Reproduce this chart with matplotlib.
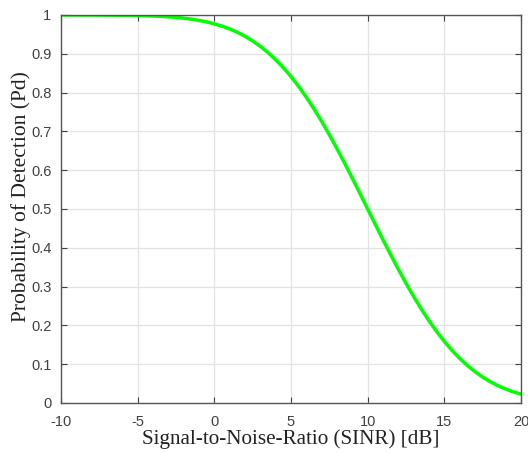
import numpy as np
import matplotlib
matplotlib.use("Agg")
import matplotlib.pyplot as plt

plt.rcParams["axes.unicode_minus"] = False

# SINR axis in dB, sampled every 0.5 dB
sinr_db = np.arange(-10, 20.01, 0.5)
pd_values = [
    1.0000, 1.0000, 0.9999, 0.9999, 0.9998, 0.9998, 0.9997, 0.9995, 0.9993, 0.9990,
    0.9987, 0.9981, 0.9974, 0.9965, 0.9953, 0.9938, 0.9918, 0.9893, 0.9861, 0.9821,
    0.9772, 0.9713, 0.9641, 0.9554, 0.9452, 0.9332, 0.9192, 0.9032, 0.8849, 0.8643,
    0.8413, 0.8159, 0.7881, 0.7580, 0.7257, 0.6915, 0.6554, 0.6179, 0.5793, 0.5398,
    0.5000, 0.4602, 0.4207, 0.3821, 0.3446, 0.3085, 0.2743, 0.2420, 0.2119, 0.1841,
    0.1587, 0.1357, 0.1151, 0.0968, 0.0808, 0.0668, 0.0548, 0.0446, 0.0359, 0.0287,
    0.0228,
]
x_ticks = [-10, -5, 0, 5, 10, 15, 20]
y_ticks = [0, 0.1, 0.2, 0.3, 0.4, 0.5, 0.6, 0.7, 0.8, 0.9, 1]
y_tick_labels = ["0", "0.1", "0.2", "0.3", "0.4", "0.5", "0.6", "0.7", "0.8", "0.9", "1"]

fig = plt.figure(figsize=(5.28, 4.53), dpi=100)
ax = fig.add_axes([61 / 528, 1 - 403 / 453, 460 / 528, 388 / 453])

ax.plot(sinr_db, pd_values, color="#00ff00", linewidth=2.5)

ax.set_xlim(-10, 20)
ax.set_ylim(0, 1)
ax.set_xticks(x_ticks)
ax.set_yticks(y_ticks)
ax.set_yticklabels(y_tick_labels)

tick_color = "#404040"
ax.tick_params(direction="in", length=4, width=0.8, colors=tick_color,
               top=True, right=True, labelsize=10.5)
ax.tick_params(axis="x", pad=9)
ax.tick_params(axis="y", pad=7)
for lbl in ax.get_xticklabels() + ax.get_yticklabels():
    lbl.set_fontfamily("Liberation Sans")

for side in ax.spines.values():
    side.set_color("#555555")
    side.set_linewidth(1.0)

ax.grid(True, color="#e3e3e3", linewidth=0.9)
ax.set_axisbelow(True)

ax.set_xlabel("Signal-to-Noise-Ratio (SINR) [dB]", fontfamily="Liberation Serif",
              fontsize=15.2, color="#222222", labelpad=0)
ylab = ax.set_ylabel("Probability of Detection (Pd)", fontfamily="Liberation Serif",
                     fontsize=15.5, color="#222222")
ylab.set_verticalalignment("center")
ax.yaxis.set_label_coords(-0.087, 0.533)

fig.savefig("out.png", dpi=100)
